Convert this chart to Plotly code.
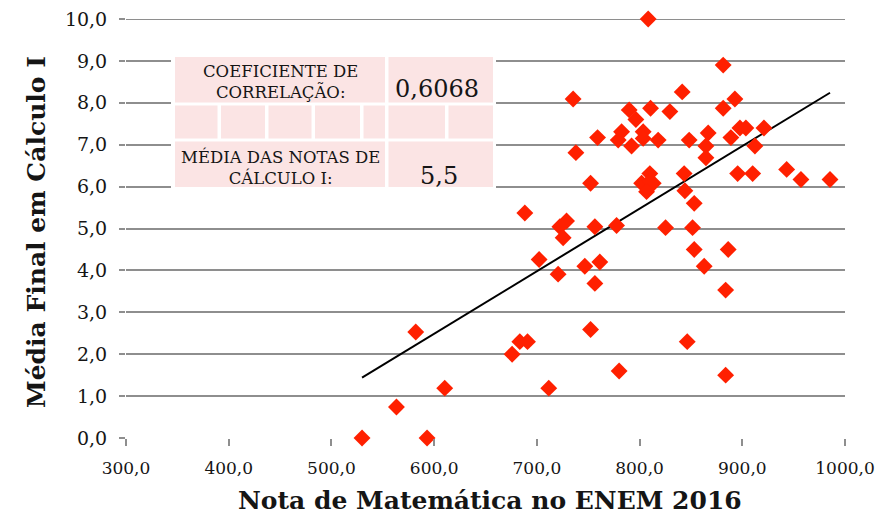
import numpy as np
import plotly.graph_objects as go

# ---- data ----
enem = [529.8, 593.1, 563.3, 610.3, 711.6, 582.1, 675.9, 683.4, 690.9, 752.3,
        780.1, 846.4, 883.8, 883.8, 862.9, 853.2, 886.3, 702.2, 720.7, 746.7,
        761.3, 756.5, 688.3, 722.4, 728.9, 725.6, 756.5, 777.6, 825.3, 851.6,
        853.2, 844.1, 843.4, 752.3, 738.0, 759.1, 735.3, 810.0, 802.0, 810.0,
        813.3, 806.8, 782.5, 779.2, 792.2, 803.5, 803.5, 818.1, 789.9, 796.4,
        810.7, 829.5, 808.4, 841.5, 881.4, 892.8, 881.4, 848.3, 866.8, 864.6,
        864.6, 888.9, 897.7, 903.5, 921.1, 912.3, 895.5, 910.1, 943.2, 957.1,
        985.4]
calculo = [0.0, 0.0, 0.74, 1.19, 1.19, 2.53, 2.00, 2.30, 2.30, 2.59,
           1.60, 2.30, 1.50, 3.53, 4.10, 4.50, 4.50, 4.26, 3.91, 4.10,
           4.20, 3.69, 5.37, 5.04, 5.18, 4.78, 5.04, 5.07, 5.02, 5.02,
           5.60, 5.90, 6.31, 6.08, 6.81, 7.17, 8.09, 6.31, 6.08, 6.13,
           6.08, 5.88, 7.31, 7.11, 6.97, 7.31, 7.15, 7.11, 7.83, 7.60,
           7.87, 7.79, 10.0, 8.26, 8.90, 8.09, 7.87, 7.11, 7.28, 6.97,
           6.69, 7.17, 7.40, 7.40, 7.40, 6.97, 6.31, 6.31, 6.41, 6.17,
           6.17]

x_tick_vals = [300, 400, 500, 600, 700, 800, 900, 1000]
x_tick_text = ["300,0", "400,0", "500,0", "600,0", "700,0", "800,0", "900,0", "1000,0"]
y_tick_vals = [0, 1, 2, 3, 4, 5, 6, 7, 8, 9, 10]
y_tick_text = ["0,0", "1,0", "2,0", "3,0", "4,0", "5,0", "6,0", "7,0", "8,0", "9,0", "10,0"]

x_title = "Nota de Matemática no ENEM 2016"
y_title = "Média Final em Cálculo I"
corr_label = "COEFICIENTE DE<br>CORRELAÇÃO:"
corr_value = "0,6068"
mean_label = "MÉDIA DAS NOTAS DE<br>CÁLCULO I:"
mean_value = "5,5"

# ---- layout geometry (page body has an 8px margin) ----
OFF = 8
W, H = 885 - OFF, 520 - OFF
L, R, T, B = 126 - OFF, 40, 19 - OFF, 82
PW, PH = W - L - R, H - T - B


def px(xp):
    return (xp - OFF - L) / PW


def py(yp):
    return (H - B - (yp - OFF)) / PH


FONT = "DejaVu Serif"
GRID = "#8e8e8e"
PINK = "#fbe4e4"
TXT = "#151515"

# trendline from least squares fit of the data
slope, intercept = np.polyfit(enem, calculo, 1)
tx = np.array([min(enem), max(enem)])
ty = slope * tx + intercept

fig = go.Figure()
fig.add_trace(go.Scatter(x=tx, y=ty, mode="lines",
                         line=dict(color="black", width=2), hoverinfo="skip",
                         showlegend=False))
fig.add_trace(go.Scatter(x=enem, y=calculo, mode="markers",
                         marker=dict(symbol="diamond", size=13, color="#ff2000",
                                     line=dict(width=0)),
                         cliponaxis=False, showlegend=False))

shapes = []
# top gridline (plotly skips the grid line lying on the plot edge)
shapes.append(dict(type="line", xref="paper", yref="y", layer="below",
                   x0=0, x1=1, y0=y_tick_vals[-1], y1=y_tick_vals[-1],
                   line=dict(color=GRID, width=2)))
shapes.append(dict(type="rect", xref="paper", yref="paper", layer="above",
                   x0=px(171), x1=px(496), y0=py(190), y1=py(53),
                   fillcolor="white", line=dict(width=0)))


def cell(x0, x1, y0, y1):
    shapes.append(dict(type="rect", xref="paper", yref="paper", layer="above",
                       x0=px(x0), x1=px(x1), y0=py(y1), y1=py(y0),
                       fillcolor=PINK, line=dict(width=0)))


cell(175, 385, 57, 102.5)
cell(388.5, 493, 57, 102.5)
for a, b in [(175, 217.5), (221, 265), (268.5, 311.5), (315, 360), (363.5, 385),
             (388.5, 445), (448.5, 493)]:
    cell(a, b, 105.5, 138.5)
cell(175, 385, 141.5, 187)
cell(388.5, 493, 141.5, 187)

annotations = [
    dict(text=corr_label, xref="paper", yref="paper", x=px(280), y=py(81.5),
         showarrow=False, font=dict(family=FONT, size=16.5, color=TXT),
         align="center", xanchor="center", yanchor="middle"),
    dict(text=corr_value, xref="paper", yref="paper", x=px(437), y=py(89),
         showarrow=False, font=dict(family=FONT, size=24, color=TXT),
         xanchor="center", yanchor="middle"),
    dict(text=mean_label, xref="paper", yref="paper", x=px(280), y=py(167),
         showarrow=False, font=dict(family=FONT, size=16.5, color=TXT),
         align="center", xanchor="center", yanchor="middle"),
    dict(text=mean_value, xref="paper", yref="paper", x=px(439), y=py(176),
         showarrow=False, font=dict(family=FONT, size=24, color=TXT),
         xanchor="center", yanchor="middle"),
    dict(text="<b>" + x_title + "</b>", xref="paper", yref="paper",
         x=px(490), y=py(500), showarrow=False,
         font=dict(family=FONT, size=25, color=TXT),
         xanchor="center", yanchor="middle"),
    dict(text="<b>" + y_title + "</b>", xref="paper", yref="paper",
         x=px(36), y=py(232), showarrow=False, textangle=-90,
         font=dict(family=FONT, size=25, color=TXT),
         xanchor="center", yanchor="middle"),
]

fig.update_layout(
    width=W, height=H,
    margin=dict(l=L, r=R, t=T, b=B, pad=0, autoexpand=False),
    paper_bgcolor="white", plot_bgcolor="white",
    font=dict(family=FONT, color=TXT),
    shapes=shapes, annotations=annotations,
    showlegend=False,
)
fig.update_xaxes(range=[300, 1000], tickvals=x_tick_vals, ticktext=x_tick_text,
                 showgrid=False, zeroline=False, showline=False,
                 ticks="outside", ticklen=7, tickwidth=2, tickcolor=GRID,
                 tickfont=dict(family=FONT, size=17, color=TXT),
                 ticklabelstandoff=8, ticklabeloverflow="allow", automargin=False)
fig.update_yaxes(range=[0, 10], tickvals=y_tick_vals, ticktext=y_tick_text,
                 showgrid=True, gridcolor=GRID, gridwidth=2, zeroline=False,
                 showline=False, ticks="outside", ticklen=6, tickwidth=2,
                 tickcolor=GRID,
                 tickfont=dict(family=FONT, size=19, color=TXT),
                 ticklabelstandoff=8, ticklabeloverflow="allow", automargin=False)

fig.write_html("out.html")
